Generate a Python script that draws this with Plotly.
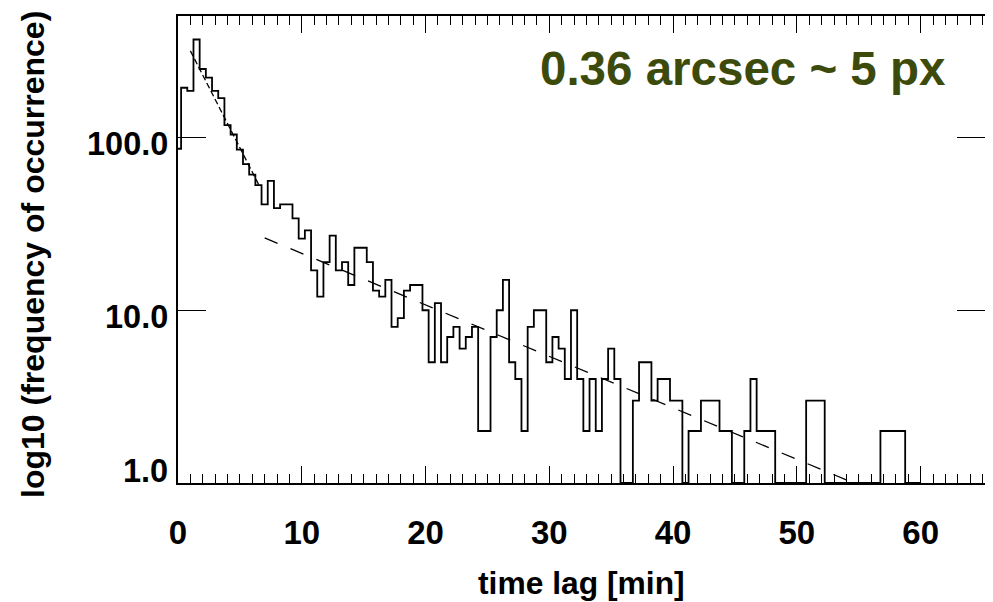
import numpy as np
import plotly.graph_objects as go

# ---------------- data ----------------
bin_width = 0.5  # minutes, bins centred on multiples of 0.5
counts = [
    86, 194, 186, 369, 249, 222, 186, 169, 118, 104,      # 0.0 - 4.5
    85, 70, 61, 53, 41, 56, 39, 41, 41, 34,               # 5.0 - 9.5
    26, 29, 17, 12, 19, 27, 17, 19, 14, 23,               # 10.0 - 14.5
    23, 19, 13, 12, 15, 8, 9, 13, 14, 14,                 # 15.0 - 19.5
    10, 5, 11, 5, 7, 8, 6, 7, 8, 2,                       # 20.0 - 24.5
    2, 7, 10, 15, 5, 4, 2, 8, 10, 10,                     # 25.0 - 29.5
    5, 7, 6, 4, 10, 4, 2, 4, 2, 4,                        # 30.0 - 34.5
    6, 4, 1, 1, 3, 5, 5, 3, 4, 4,                         # 35.0 - 39.5
    3, 3, 1, 2, 2, 3, 3, 3, 2, 2,                         # 40.0 - 44.5
    1, 1, 2, 4, 2, 2, 2, 1, 1, 1,                         # 45.0 - 49.5
    1, 1, 3, 3, 3, 1, 1, 1, 1, 1,                         # 50.0 - 54.5
    1, 1, 1, 1, 2, 2, 2, 2, 1, 1,                         # 55.0 - 59.5
    1,                                                    # 60.0
]
time_lag = np.arange(len(counts)) * bin_width

# two exponential fits (straight lines in log space), end points
fit1_x = [1.0, 6.6]
fit1_y = [317.0, 52.0]
fit2_x = [7.0, 54.6]
fit2_y = [26.2, 1.0]

x_ticks = [0, 10, 20, 30, 40, 50, 60]
y_ticks = [1.0, 10.0, 100.0]
y_tick_labels = ["1.0", "10.0", "100.0"]

label_text = "0.36 arcsec ~ 5 px"

# ---------------- figure ----------------
FONT = "Liberation Sans"
fig = go.Figure()

fig.add_trace(go.Scatter(
    x=time_lag, y=counts, mode="lines",
    line=dict(color="black", width=1.8, shape="hvh"),
    showlegend=False, hoverinfo="skip"))

fig.add_trace(go.Scatter(
    x=fit1_x, y=fit1_y, mode="lines",
    line=dict(color="black", width=1.3, dash="6px,3px"),
    showlegend=False, hoverinfo="skip"))

fig.add_trace(go.Scatter(
    x=fit2_x, y=fit2_y, mode="lines",
    line=dict(color="black", width=1.3, dash="14px,14px"),
    showlegend=False, hoverinfo="skip"))

fig.update_xaxes(
    range=[0, 65.2], showgrid=False, zeroline=False,
    showline=True, linecolor="black", linewidth=1.5, mirror="allticks",
    ticks="inside", ticklen=17, tickwidth=1.3, tickcolor="black",
    tickvals=x_ticks, ticktext=["<b>%d</b>" % v for v in x_ticks],
    tickfont=dict(family=FONT, size=33, color="black"),
    ticklabelstandoff=20,
    minor=dict(ticks="inside", ticklen=9, tickwidth=1.2, tickcolor="black", dtick=1, tick0=0),
)

fig.update_yaxes(
    type="log", range=[0, 2.703], showgrid=False, zeroline=False,
    showline=True, linecolor="black", linewidth=1.5, mirror="allticks",
    ticks="inside", ticklen=28, tickwidth=1.3, tickcolor="black",
    tickvals=y_ticks, showticklabels=False,
)

annotations = []
# y tick labels (IDL places them slightly offset)
y_shifts = [12.5, -7, -6.5]
for v, t, s in zip(y_ticks, y_tick_labels, y_shifts):
    annotations.append(dict(
        x=0, xref="paper", y=np.log10(v), yref="y", text="<b>" + t + "</b>", showarrow=False,
        xanchor="right", yanchor="middle", xshift=-8, yshift=s,
        font=dict(family=FONT, size=32.5, color="black")))

# axis titles
annotations.append(dict(
    x=0.5, xref="paper", y=-0.215, yref="paper", text="<b>time lag [min]</b>",
    showarrow=False, xanchor="center", yanchor="middle",
    font=dict(family=FONT, size=31.8, color="black")))
annotations.append(dict(
    x=-0.18, xref="paper", y=0.49, yref="paper",
    text="<b>log10 (frequency of occurrence)</b>", textangle=-90,
    showarrow=False, xanchor="center", yanchor="middle",
    font=dict(family=FONT, size=32, color="black")))

# label
annotations.append(dict(
    x=0.7005, xref="paper", y=0.888, yref="paper", text="<b>" + label_text + "</b>",
    showarrow=False, xanchor="center", yanchor="middle",
    font=dict(family=FONT, size=47.5, color="#3c4b0c")))

# the page body adds an 8 px margin, so the figure is 8 px smaller than the window
fig.update_layout(
    width=985, height=594,
    margin=dict(l=170, r=7, t=6, b=119),
    paper_bgcolor="white", plot_bgcolor="white",
    annotations=annotations,
)

fig.write_html("out.html")
